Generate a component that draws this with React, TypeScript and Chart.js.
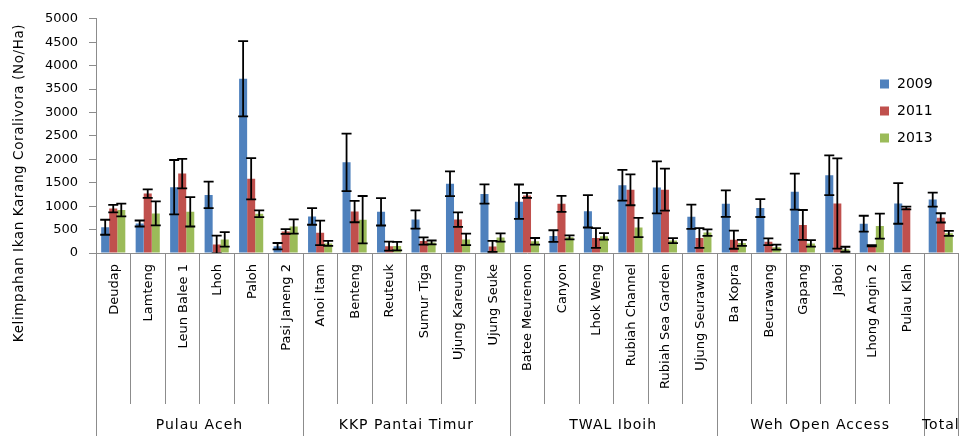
import React, { useEffect, useRef } from 'react';
import { Chart, registerables } from 'chart.js';

Chart.register(...registerables);

const categories = [
  'Deudap', 'Lamteng', 'Leun Balee 1', 'Lhoh', 'Paloh', 'Pasi Janeng 2',
  'Anoi Itam', 'Benteng', 'Reuteuk', 'Sumur Tiga', 'Ujung Kareung', 'Ujung Seuke',
  'Batee Meurenon', 'Canyon', 'Lhok Weng', 'Rubiah Channel', 'Rubiah Sea Garden', 'Ujung Seurawan',
  'Ba Kopra', 'Beurawang', 'Gapang', 'Jaboi', 'Lhong Angin 2', 'Pulau Klah',
  '',
];

const groups = ['Pulau Aceh', 'KKP Pantai Timur', 'TWAL Iboih', 'Weh Open Access', 'Total'];
const groupSizes = [6, 6, 6, 6, 1];

const seriesLabels = ['2009', '2011', '2013'];
const seriesColors = ['#4F81BD', '#C0504D', '#9BBB59'];

const values2009 = [550, 630, 1405, 1240, 3720, 145, 780, 1935, 880, 715, 1478, 1260, 1095, 362, 890, 1445, 1400, 775, 1053, 960, 1310, 1660, 625, 1058, 1140];
const errors2009 = [160, 64, 580, 282, 805, 68, 177, 614, 293, 194, 265, 205, 367, 124, 346, 328, 555, 258, 282, 191, 385, 424, 170, 434, 148];

const values2011 = [948, 1268, 1695, 180, 1585, 458, 430, 885, 146, 255, 713, 140, 1230, 1050, 320, 1349, 1352, 320, 285, 240, 600, 1058, 155, 960, 750];
const errors2011 = [80, 90, 314, 190, 441, 50, 261, 229, 95, 78, 155, 117, 53, 170, 212, 330, 449, 212, 194, 71, 318, 964, 12, 28, 99];

const values2013 = [918, 845, 880, 290, 838, 565, 205, 712, 148, 225, 290, 330, 250, 335, 355, 543, 265, 435, 215, 125, 205, 80, 574, 0, 420];
const errors2013 = [135, 257, 314, 155, 71, 152, 53, 505, 90, 42, 124, 88, 70, 42, 71, 205, 53, 71, 64, 53, 71, 53, 265, 0, 53];

const yMin = 0;
const yMax = 5000;
const yStep = 500;

const yTitle = 'Kelimpahan Ikan Karang Coralivora (No/Ha)';

const FONT = "'DejaVu Sans', sans-serif";
const AXIS_COLOR = '#8C8C8C';

export default function App() {
  const ref = useRef<HTMLCanvasElement>(null);

  useEffect(() => {
    document.body.style.margin = '0';
    const canvas = ref.current;
    if (!canvas) return;

    const errs = [errors2009, errors2011, errors2013];

    const errorPlugin = {
      id: 'errorBars',
      afterDatasetsDraw(chart: any) {
        const ctx = chart.ctx;
        const ys = chart.scales.y;
        const area = chart.chartArea;
        ctx.save();
        ctx.beginPath();
        ctx.rect(area.left, 0, area.right - area.left, area.bottom);
        ctx.clip();
        ctx.strokeStyle = '#000';
        ctx.lineWidth = 1.8;
        chart.data.datasets.forEach((ds: any, i: number) => {
          const meta = chart.getDatasetMeta(i);
          meta.data.forEach((el: any, j: number) => {
            const v = ds.data[j];
            const e = errs[i][j];
            if (!e) return;
            const top = ys.getPixelForValue(v + e);
            const bot = ys.getPixelForValue(v - e);
            const x = el.x;
            const cw = 5;
            ctx.beginPath();
            ctx.moveTo(x, top);
            ctx.lineTo(x, bot);
            ctx.moveTo(x - cw, top);
            ctx.lineTo(x + cw, top);
            ctx.moveTo(x - cw, bot);
            ctx.lineTo(x + cw, bot);
            ctx.stroke();
          });
        });
        ctx.restore();
      },
    };

    const axisPlugin = {
      id: 'multiAxis',
      afterDraw(chart: any) {
        const ctx = chart.ctx;
        const xs = chart.scales.x;
        const area = chart.chartArea;
        const H = chart.height;
        const n = categories.length;
        const half = (xs.getPixelForValue(1) - xs.getPixelForValue(0)) / 2;
        const boundary = (i: number) => (i < n ? xs.getPixelForValue(i) - half : xs.getPixelForValue(n - 1) + half);

        const groupBounds = new Set<number>();
        let acc = 0;
        groupBounds.add(0);
        groupSizes.forEach((s) => { acc += s; groupBounds.add(acc); });

        ctx.save();
        ctx.strokeStyle = AXIS_COLOR;
        ctx.lineWidth = 1;
        for (let i = 0; i <= n; i++) {
          const bx = Math.round(boundary(i)) + 0.5;
          ctx.beginPath();
          ctx.moveTo(bx, area.bottom);
          ctx.lineTo(bx, groupBounds.has(i) ? H : area.bottom + 151);
          ctx.stroke();
        }

        // category labels
        ctx.fillStyle = '#000';
        ctx.font = `13px ${FONT}`;
        ctx.textAlign = 'right';
        ctx.textBaseline = 'middle';
        categories.forEach((c, i) => {
          if (!c) return;
          const cx = xs.getPixelForValue(i);
          ctx.save();
          ctx.translate(cx + 1, area.bottom + 11);
          ctx.rotate(-Math.PI / 2);
          ctx.fillText(c, 0, 0);
          ctx.restore();
        });

        // group labels
        ctx.font = `14px ${FONT}`;
        (ctx as any).letterSpacing = '1px';
        ctx.textAlign = 'center';
        let start = 0;
        groups.forEach((g, gi) => {
          const end = start + groupSizes[gi];
          const cx = (boundary(start) + boundary(end)) / 2;
          ctx.fillText(g, cx, 425);
          start = end;
        });

        // y title
        ctx.font = `13.5px ${FONT}`;
        (ctx as any).letterSpacing = '0.6px';
        ctx.save();
        ctx.translate(19, 183);
        ctx.rotate(-Math.PI / 2);
        ctx.textAlign = 'center';
        ctx.fillText(yTitle, 0, 0);
        ctx.restore();
        (ctx as any).letterSpacing = '0px';

        // legend
        ctx.font = `14px ${FONT}`;
        ctx.textAlign = 'left';
        const legendY = [84, 111, 138];
        seriesLabels.forEach((s, i) => {
          ctx.fillStyle = seriesColors[i];
          ctx.fillRect(880, legendY[i] - 4.5, 9, 9);
          ctx.fillStyle = '#000';
          ctx.fillText(s, 897, legendY[i] + 0.5);
        });
        ctx.restore();
      },
    };

    const datasets = [values2009, values2011, values2013].map((vals, i) => ({
      label: seriesLabels[i],
      data: vals,
      backgroundColor: seriesColors[i],
      borderWidth: 0,
      categoryPercentage: 0.7,
      barPercentage: 1.0,
    }));

    const chart = new Chart(canvas, {
      type: 'bar',
      data: { labels: categories, datasets },
      options: {
        responsive: false,
        animation: false,
        devicePixelRatio: 1,
        layout: { padding: { top: 10, right: 2, left: 0, bottom: 0 } },
        plugins: { legend: { display: false }, tooltip: { enabled: false } },
        scales: {
          x: {
            type: 'category',
            offset: true,
            grid: { display: false },
            ticks: { display: false },
            border: { color: AXIS_COLOR },
            afterFit: (s: any) => { s.height = 183; },
          },
          y: {
            min: yMin,
            max: yMax,
            ticks: {
              stepSize: yStep,
              font: { family: FONT, size: 13 },
              color: '#000',
              padding: 11,
              callback: (v: any) => String(v),
            },
            grid: { drawOnChartArea: false, tickLength: 7, color: AXIS_COLOR },
            border: { color: AXIS_COLOR },
            afterFit: (s: any) => { s.width = 96; },
          },
        },
      },
      plugins: [errorPlugin, axisPlugin],
    } as any);

    return () => chart.destroy();
  }, []);

  return <canvas ref={ref} width={960} height={436} style={{ display: 'block' }} />;
}
